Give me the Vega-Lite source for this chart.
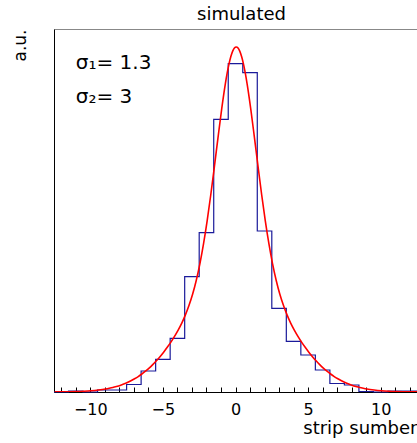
{
  "$schema": "https://vega.github.io/schema/vega-lite/v6.json",
  "autosize": "none",
  "padding": {"left": 54, "top": 29, "right": 0, "bottom": 51},
  "width": 363,
  "height": 363,
  "background": "white",
  "config": {
    "font": "DejaVu Sans",
    "view": {"stroke": "#888888", "strokeWidth": 1}
  },
  "title": {
    "text": "simulated",
    "fontSize": 18,
    "font": "DejaVu Sans",
    "fontWeight": "normal",
    "color": "black",
    "baseline": "alphabetic",
    "offset": 9,
    "dx": 6,
    "dy": 18
  },
  "encoding": {
    "x": {
      "field": "x",
      "type": "quantitative",
      "scale": {"domain": [-12.5, 12.5], "nice": false, "zero": false},
      "axis": {
        "values": [-12, -11, -10, -9, -8, -7, -6, -5, -4, -3, -2, -1, 0, 1, 2, 3, 4, 5, 6, 7, 8, 9, 10, 11, 12],
        "ticks": true,
        "tickSize": -5,
        "tickColor": "black",
        "tickWidth": 1,
        "encode": {"ticks": {"update": {"y2": {"signal": "datum.value % 5 === 0 ? -10 : -5"}}}},
        "labelExpr": "datum.value % 5 === 0 ? datum.label : ''",
        "labelFontSize": 16,
        "labelPadding": 14,
        "labelColor": "black",
        "labelFlush": false,
        "labelOverlap": false,
        "domainColor": "black",
        "grid": false,
        "title": "strip sumber",
        "titleFontSize": 18,
        "titleFontWeight": "normal",
        "titleColor": "black",
        "titleAnchor": "end",
        "titleAlign": "right",
        "titleBaseline": "alphabetic",
        "titleX": 363,
        "titleY": 41.5
      }
    },
    "y": {
      "field": "y",
      "type": "quantitative",
      "scale": {"domain": [0, 363], "nice": false, "zero": true},
      "axis": {
        "ticks": false,
        "labels": false,
        "grid": false,
        "domainColor": "black",
        "title": "a.u.",
        "titleFontSize": 17,
        "titleFontWeight": "normal",
        "titleColor": "black",
        "titleAngle": -90,
        "titleAlign": "right",
        "titleBaseline": "alphabetic",
        "titleX": -29,
        "titleY": 0
      }
    }
  },
  "layer": [
    {
      "data": {"values": [
        {"x": -12.5, "y": 0}, {"x": -11.5, "y": 1}, {"x": -10.5, "y": 0}, {"x": -9.5, "y": 2},
        {"x": -8.5, "y": 2}, {"x": -7.5, "y": 7.5}, {"x": -6.5, "y": 21}, {"x": -5.5, "y": 32.7},
        {"x": -4.5, "y": 53.7}, {"x": -3.5, "y": 115.3}, {"x": -2.5, "y": 159.3}, {"x": -1.5, "y": 272.7},
        {"x": -0.5, "y": 328.3}, {"x": 0.5, "y": 319.3}, {"x": 1.5, "y": 161}, {"x": 2.5, "y": 83.7},
        {"x": 3.5, "y": 50.7}, {"x": 4.5, "y": 37}, {"x": 5.5, "y": 22}, {"x": 6.5, "y": 8.5},
        {"x": 7.5, "y": 7}, {"x": 8.5, "y": 0.5}, {"x": 9.5, "y": 0}, {"x": 10.5, "y": 1},
        {"x": 11.5, "y": 1}, {"x": 12.5, "y": 1}
      ]},
      "mark": {"type": "line", "interpolate": "step-after", "color": "#1a1a9a", "strokeWidth": 1.2}
    },
    {
      "data": {"values": [
        {"x": -12.45, "y": 0.10}, {"x": -11.95, "y": 0.17}, {"x": -11.45, "y": 0.29}, {"x": -10.95, "y": 0.48},
        {"x": -10.45, "y": 0.79}, {"x": -9.95, "y": 1.27}, {"x": -9.45, "y": 2.0}, {"x": -8.95, "y": 3.0},
        {"x": -8.7, "y": 3.7}, {"x": -8.45, "y": 4.5}, {"x": -8.2, "y": 5.5}, {"x": -7.95, "y": 6.6},
        {"x": -7.7, "y": 7.9}, {"x": -7.45, "y": 9.4}, {"x": -7.2, "y": 11.2}, {"x": -6.95, "y": 13.2},
        {"x": -6.7, "y": 15.4}, {"x": -6.45, "y": 18.0}, {"x": -6.2, "y": 20.8}, {"x": -5.95, "y": 23.9},
        {"x": -5.7, "y": 27.4}, {"x": -5.45, "y": 31.2}, {"x": -5.2, "y": 35.3}, {"x": -4.95, "y": 39.8},
        {"x": -4.7, "y": 44.7}, {"x": -4.45, "y": 49.9}, {"x": -4.2, "y": 55.6}, {"x": -3.95, "y": 61.9},
        {"x": -3.7, "y": 68.9}, {"x": -3.45, "y": 77.1}, {"x": -3.2, "y": 86.7}, {"x": -2.95, "y": 98.0},
        {"x": -2.7, "y": 111.8}, {"x": -2.45, "y": 128.4}, {"x": -2.2, "y": 148.3}, {"x": -1.95, "y": 171.4},
        {"x": -1.7, "y": 197.5}, {"x": -1.45, "y": 225.8}, {"x": -1.2, "y": 254.9}, {"x": -0.95, "y": 283.1},
        {"x": -0.7, "y": 308.1}, {"x": -0.575, "y": 318.8}, {"x": -0.45, "y": 327.9}, {"x": -0.325, "y": 335.2},
        {"x": -0.2, "y": 340.6}, {"x": -0.075, "y": 343.9}, {"x": 0.05, "y": 345.0}, {"x": 0.175, "y": 343.9},
        {"x": 0.3, "y": 340.6}, {"x": 0.425, "y": 335.2}, {"x": 0.55, "y": 327.9}, {"x": 0.675, "y": 318.8},
        {"x": 0.8, "y": 308.1}, {"x": 1.05, "y": 283.1}, {"x": 1.3, "y": 254.9}, {"x": 1.55, "y": 225.8},
        {"x": 1.8, "y": 197.5}, {"x": 2.05, "y": 171.4}, {"x": 2.3, "y": 148.3}, {"x": 2.55, "y": 128.4},
        {"x": 2.8, "y": 111.8}, {"x": 3.05, "y": 98.0}, {"x": 3.3, "y": 86.7}, {"x": 3.55, "y": 77.1},
        {"x": 3.8, "y": 68.9}, {"x": 4.05, "y": 61.9}, {"x": 4.3, "y": 55.6}, {"x": 4.55, "y": 49.9},
        {"x": 4.8, "y": 44.7}, {"x": 5.05, "y": 39.8}, {"x": 5.3, "y": 35.3}, {"x": 5.55, "y": 31.2},
        {"x": 5.8, "y": 27.4}, {"x": 6.05, "y": 23.9}, {"x": 6.3, "y": 20.8}, {"x": 6.55, "y": 18.0},
        {"x": 6.8, "y": 15.4}, {"x": 7.05, "y": 13.2}, {"x": 7.3, "y": 11.2}, {"x": 7.55, "y": 9.4},
        {"x": 7.8, "y": 7.9}, {"x": 8.05, "y": 6.6}, {"x": 8.3, "y": 5.5}, {"x": 8.55, "y": 4.5},
        {"x": 8.8, "y": 3.7}, {"x": 9.05, "y": 3.0}, {"x": 9.55, "y": 2.0}, {"x": 10.05, "y": 1.27},
        {"x": 10.55, "y": 0.79}, {"x": 11.05, "y": 0.48}, {"x": 11.55, "y": 0.29}, {"x": 12.05, "y": 0.17},
        {"x": 12.55, "y": 0.10}
      ]},
      "mark": {"type": "line", "interpolate": "monotone", "color": "#ff0000", "strokeWidth": 1.6, "clip": true}
    },
    {
      "data": {"values": [
        {"x": -11.0, "y": 322.7, "label": "σ₁= 1.3"},
        {"x": -11.0, "y": 289, "label": "σ₂= 3"}
      ]},
      "mark": {"type": "text", "align": "left", "baseline": "alphabetic", "fontSize": 20, "font": "DejaVu Sans", "color": "black"},
      "encoding": {"text": {"field": "label", "type": "nominal"}}
    }
  ]
}
